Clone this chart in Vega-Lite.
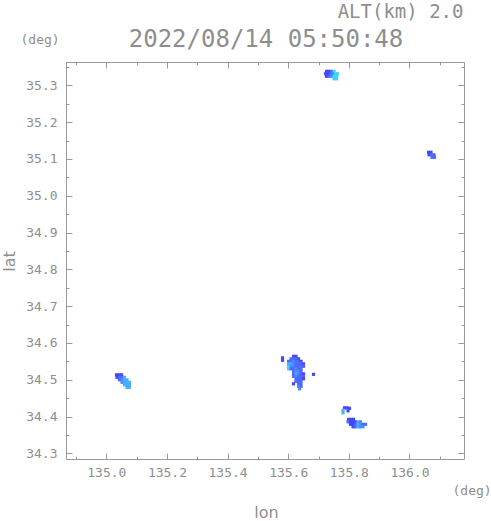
{
  "$schema": "https://vega.github.io/schema/vega-lite/v6.json",
  "width": 398,
  "height": 397,
  "autosize": {"type": "none"},
  "padding": {"left": 66, "top": 62, "right": 27, "bottom": 62},
  "background": "white",
  "config": {
    "view": {"stroke": "#9a9a9a", "strokeWidth": 1},
    "axis": {
      "domain": false,
      "grid": false,
      "tickColor": "#9a9a9a",
      "tickWidth": 1,
      "labelColor": "#8e8e8e",
      "labelFont": "DejaVu Sans Mono",
      "labelFontSize": 13,
      "titleColor": "#8e8e8e",
      "titleFontWeight": "normal",
      "titleFont": "DejaVu Sans Mono"
    }
  },
  "data": {
    "values": [
      {"lon": 135.7265, "lat": 35.3382, "lvl": 1},
      {"lon": 135.7347, "lat": 35.3382, "lvl": 1},
      {"lon": 135.7430, "lat": 35.3382, "lvl": 2},
      {"lon": 135.7513, "lat": 35.3382, "lvl": 5},
      {"lon": 135.7232, "lat": 35.3314, "lvl": 1},
      {"lon": 135.7314, "lat": 35.3314, "lvl": 1},
      {"lon": 135.7397, "lat": 35.3314, "lvl": 2},
      {"lon": 135.7480, "lat": 35.3314, "lvl": 3},
      {"lon": 135.7562, "lat": 35.3314, "lvl": 5},
      {"lon": 135.7628, "lat": 35.3314, "lvl": 5},
      {"lon": 135.7265, "lat": 35.3246, "lvl": 1},
      {"lon": 135.7347, "lat": 35.3246, "lvl": 2},
      {"lon": 135.7430, "lat": 35.3246, "lvl": 3},
      {"lon": 135.7513, "lat": 35.3246, "lvl": 5},
      {"lon": 135.7595, "lat": 35.3246, "lvl": 5},
      {"lon": 135.7513, "lat": 35.3178, "lvl": 5},
      {"lon": 135.7595, "lat": 35.3178, "lvl": 5},

      {"lon": 136.0630, "lat": 35.1181, "lvl": 1},
      {"lon": 136.0712, "lat": 35.1181, "lvl": 1},
      {"lon": 136.0646, "lat": 35.1113, "lvl": 1},
      {"lon": 136.0729, "lat": 35.1113, "lvl": 2},
      {"lon": 136.0811, "lat": 35.1113, "lvl": 2},
      {"lon": 136.0745, "lat": 35.1045, "lvl": 2},
      {"lon": 136.0828, "lat": 35.1045, "lvl": 2},

      {"lon": 135.0336, "lat": 34.5133, "lvl": 1},
      {"lon": 135.0419, "lat": 34.5133, "lvl": 1},
      {"lon": 135.0501, "lat": 34.5133, "lvl": 1},
      {"lon": 135.0353, "lat": 34.5065, "lvl": 1},
      {"lon": 135.0435, "lat": 34.5065, "lvl": 2},
      {"lon": 135.0518, "lat": 34.5065, "lvl": 2},
      {"lon": 135.0600, "lat": 34.5065, "lvl": 4},
      {"lon": 135.0435, "lat": 34.4997, "lvl": 2},
      {"lon": 135.0518, "lat": 34.4997, "lvl": 3},
      {"lon": 135.0600, "lat": 34.4997, "lvl": 4},
      {"lon": 135.0683, "lat": 34.4997, "lvl": 4},
      {"lon": 135.0518, "lat": 34.4929, "lvl": 3},
      {"lon": 135.0600, "lat": 34.4929, "lvl": 4},
      {"lon": 135.0683, "lat": 34.4929, "lvl": 4},
      {"lon": 135.0765, "lat": 34.4929, "lvl": 4},
      {"lon": 135.0600, "lat": 34.4861, "lvl": 4},
      {"lon": 135.0683, "lat": 34.4861, "lvl": 4},
      {"lon": 135.0765, "lat": 34.4861, "lvl": 4},
      {"lon": 135.0683, "lat": 34.4793, "lvl": 4},
      {"lon": 135.0765, "lat": 34.4793, "lvl": 4},

      {"lon": 135.5813, "lat": 34.5595, "lvl": 1},
      {"lon": 135.5813, "lat": 34.5527, "lvl": 1},
      {"lon": 135.6176, "lat": 34.5636, "lvl": 1},
      {"lon": 135.6258, "lat": 34.5636, "lvl": 1},
      {"lon": 135.6093, "lat": 34.5568, "lvl": 2},
      {"lon": 135.6176, "lat": 34.5568, "lvl": 2},
      {"lon": 135.6258, "lat": 34.5568, "lvl": 2},
      {"lon": 135.6341, "lat": 34.5568, "lvl": 1},
      {"lon": 135.6011, "lat": 34.5500, "lvl": 2},
      {"lon": 135.6093, "lat": 34.5500, "lvl": 2},
      {"lon": 135.6176, "lat": 34.5500, "lvl": 3},
      {"lon": 135.6258, "lat": 34.5500, "lvl": 2},
      {"lon": 135.6341, "lat": 34.5500, "lvl": 2},
      {"lon": 135.6423, "lat": 34.5500, "lvl": 1},
      {"lon": 135.6011, "lat": 34.5432, "lvl": 4},
      {"lon": 135.6093, "lat": 34.5432, "lvl": 4},
      {"lon": 135.6176, "lat": 34.5432, "lvl": 3},
      {"lon": 135.6258, "lat": 34.5432, "lvl": 2},
      {"lon": 135.6341, "lat": 34.5432, "lvl": 2},
      {"lon": 135.6423, "lat": 34.5432, "lvl": 2},
      {"lon": 135.6506, "lat": 34.5432, "lvl": 1},
      {"lon": 135.6011, "lat": 34.5364, "lvl": 5},
      {"lon": 135.6093, "lat": 34.5364, "lvl": 3},
      {"lon": 135.6176, "lat": 34.5364, "lvl": 3},
      {"lon": 135.6258, "lat": 34.5364, "lvl": 2},
      {"lon": 135.6341, "lat": 34.5364, "lvl": 2},
      {"lon": 135.6423, "lat": 34.5364, "lvl": 2},
      {"lon": 135.6506, "lat": 34.5364, "lvl": 2},
      {"lon": 135.6011, "lat": 34.5296, "lvl": 5},
      {"lon": 135.6093, "lat": 34.5296, "lvl": 2},
      {"lon": 135.6176, "lat": 34.5296, "lvl": 2},
      {"lon": 135.6258, "lat": 34.5296, "lvl": 3},
      {"lon": 135.6341, "lat": 34.5296, "lvl": 2},
      {"lon": 135.6423, "lat": 34.5296, "lvl": 2},
      {"lon": 135.6176, "lat": 34.5228, "lvl": 2},
      {"lon": 135.6258, "lat": 34.5228, "lvl": 3},
      {"lon": 135.6341, "lat": 34.5228, "lvl": 3},
      {"lon": 135.6423, "lat": 34.5228, "lvl": 2},
      {"lon": 135.6176, "lat": 34.5160, "lvl": 2},
      {"lon": 135.6258, "lat": 34.5160, "lvl": 4},
      {"lon": 135.6341, "lat": 34.5160, "lvl": 3},
      {"lon": 135.6423, "lat": 34.5160, "lvl": 2},
      {"lon": 135.6506, "lat": 34.5160, "lvl": 1},
      {"lon": 135.6176, "lat": 34.5092, "lvl": 2},
      {"lon": 135.6258, "lat": 34.5092, "lvl": 3},
      {"lon": 135.6341, "lat": 34.5092, "lvl": 2},
      {"lon": 135.6423, "lat": 34.5092, "lvl": 2},
      {"lon": 135.6506, "lat": 34.5092, "lvl": 2},
      {"lon": 135.6258, "lat": 34.5024, "lvl": 2},
      {"lon": 135.6341, "lat": 34.5024, "lvl": 2},
      {"lon": 135.6423, "lat": 34.5024, "lvl": 2},
      {"lon": 135.6506, "lat": 34.5024, "lvl": 1},
      {"lon": 135.6258, "lat": 34.4956, "lvl": 2},
      {"lon": 135.6341, "lat": 34.4956, "lvl": 2},
      {"lon": 135.6423, "lat": 34.4956, "lvl": 2},
      {"lon": 135.6176, "lat": 34.4888, "lvl": 1},
      {"lon": 135.6341, "lat": 34.4888, "lvl": 2},
      {"lon": 135.6423, "lat": 34.4888, "lvl": 2},
      {"lon": 135.6341, "lat": 34.4820, "lvl": 3},
      {"lon": 135.6423, "lat": 34.4820, "lvl": 2},
      {"lon": 135.6374, "lat": 34.4752, "lvl": 3},
      {"lon": 135.6836, "lat": 34.5146, "lvl": 1},

      {"lon": 135.7858, "lat": 34.4236, "lvl": 1},
      {"lon": 135.7941, "lat": 34.4236, "lvl": 1},
      {"lon": 135.8023, "lat": 34.4222, "lvl": 1},
      {"lon": 135.7809, "lat": 34.4168, "lvl": 4},
      {"lon": 135.7974, "lat": 34.4154, "lvl": 1},
      {"lon": 135.7809, "lat": 34.4100, "lvl": 4},
      {"lon": 135.7990, "lat": 34.3923, "lvl": 1},
      {"lon": 135.8073, "lat": 34.3923, "lvl": 1},
      {"lon": 135.8155, "lat": 34.3923, "lvl": 1},
      {"lon": 135.7974, "lat": 34.3855, "lvl": 2},
      {"lon": 135.8056, "lat": 34.3855, "lvl": 1},
      {"lon": 135.8139, "lat": 34.3855, "lvl": 1},
      {"lon": 135.8221, "lat": 34.3855, "lvl": 1},
      {"lon": 135.8304, "lat": 34.3855, "lvl": 4},
      {"lon": 135.8386, "lat": 34.3855, "lvl": 3},
      {"lon": 135.8056, "lat": 34.3787, "lvl": 1},
      {"lon": 135.8139, "lat": 34.3787, "lvl": 1},
      {"lon": 135.8221, "lat": 34.3787, "lvl": 2},
      {"lon": 135.8304, "lat": 34.3787, "lvl": 4},
      {"lon": 135.8386, "lat": 34.3787, "lvl": 3},
      {"lon": 135.8469, "lat": 34.3787, "lvl": 2},
      {"lon": 135.8551, "lat": 34.3787, "lvl": 2},
      {"lon": 135.8139, "lat": 34.3720, "lvl": 1},
      {"lon": 135.8221, "lat": 34.3720, "lvl": 2},
      {"lon": 135.8304, "lat": 34.3720, "lvl": 4},
      {"lon": 135.8386, "lat": 34.3720, "lvl": 3},
      {"lon": 135.8469, "lat": 34.3720, "lvl": 3}
    ]
  },
  "resolve": {"axis": {"x": "independent", "y": "independent"}},
  "layer": [
    {
      "mark": {"type": "square", "size": 10, "opacity": 1, "strokeWidth": 0},
      "encoding": {
        "x": {
          "field": "lon", "type": "quantitative",
          "scale": {"domain": [134.867, 136.18], "nice": false, "zero": false},
          "axis": {
            "orient": "bottom",
            "values": [135.0, 135.2, 135.4, 135.6, 135.8, 136.0],
            "format": ".1f",
            "ticks": false,
            "labelPadding": 7,
            "labelBaseline": "top",
            "title": "lon",
            "titleFont": "DejaVu Sans",
            "titleFontSize": 16,
            "titleX": 200,
            "titleY": 58,
            "titleAlign": "center",
            "titleBaseline": "alphabetic"
          }
        },
        "y": {
          "field": "lat", "type": "quantitative",
          "scale": {"domain": [34.2845, 35.3635], "nice": false, "zero": false},
          "axis": {
            "orient": "left",
            "values": [34.3, 34.4, 34.5, 34.6, 34.7, 34.8, 34.9, 35.0, 35.1, 35.2, 35.3],
            "format": ".1f",
            "ticks": false,
            "labelPadding": 9,
            "title": "lat",
            "titleFont": "DejaVu Sans",
            "titleFontSize": 16,
            "titleX": -57,
            "titleY": 199,
            "titleAngle": -90,
            "titleAlign": "center",
            "titleBaseline": "middle"
          }
        },
        "color": {
          "field": "lvl", "type": "ordinal",
          "scale": {"domain": [1, 2, 3, 4, 5], "range": ["#4646ff", "#5068ff", "#4a8cff", "#4aaeff", "#3fd2ff"]},
          "legend": null
        }
      }
    },
    {
      "mark": {"type": "point", "opacity": 0},
      "encoding": {
        "x": {
          "field": "lon", "type": "quantitative",
          "axis": {
            "orient": "top",
            "values": [134.9, 135.0, 135.1, 135.2, 135.3, 135.4, 135.5, 135.6, 135.7, 135.8, 135.9, 136.0, 136.1],
            "labels": false,
            "tickSize": {"condition": {"test": "round(datum.value*10) % 2 === 0", "value": -6}, "value": -3},
            "title": "2022/08/14 05:50:48",
            "titleFontSize": 24,
            "titleX": 199.5,
            "titleY": -15.5,
            "titleAngle": 0,
            "titleAlign": "center",
            "titleBaseline": "alphabetic"
          }
        },
        "y": {
          "field": "lat", "type": "quantitative",
          "axis": {
            "orient": "right",
            "values": [34.3, 34.35, 34.4, 34.45, 34.5, 34.55, 34.6, 34.65, 34.7, 34.75, 34.8, 34.85, 34.9, 34.95, 35.0, 35.05, 35.1, 35.15, 35.2, 35.25, 35.3, 35.35],
            "labels": false,
            "tickSize": {"condition": {"test": "round(datum.value*100) % 10 === 0", "value": -6}, "value": -3},
            "title": "(deg)",
            "titleFontSize": 13,
            "titleX": -12,
            "titleY": 432,
            "titleAngle": 0,
            "titleAlign": "left",
            "titleBaseline": "alphabetic"
          }
        }
      }
    },
    {
      "mark": {"type": "point", "opacity": 0},
      "encoding": {
        "x": {
          "field": "lon", "type": "quantitative",
          "axis": {
            "orient": "bottom",
            "values": [134.9, 135.0, 135.1, 135.2, 135.3, 135.4, 135.5, 135.6, 135.7, 135.8, 135.9, 136.0, 136.1],
            "labels": false,
            "tickSize": {"condition": {"test": "round(datum.value*10) % 2 === 0", "value": -6}, "value": -3},
            "title": "ALT(km) 2.0",
            "titleFontSize": 19,
            "titleX": 397,
            "titleY": -442,
            "titleAngle": 0,
            "titleAlign": "right",
            "titleBaseline": "alphabetic"
          }
        },
        "y": {
          "field": "lat", "type": "quantitative",
          "axis": {
            "orient": "left",
            "values": [34.3, 34.35, 34.4, 34.45, 34.5, 34.55, 34.6, 34.65, 34.7, 34.75, 34.8, 34.85, 34.9, 34.95, 35.0, 35.05, 35.1, 35.15, 35.2, 35.25, 35.3, 35.35],
            "labels": false,
            "tickSize": {"condition": {"test": "round(datum.value*100) % 10 === 0", "value": -6}, "value": -3},
            "title": "(deg)",
            "titleFontSize": 13,
            "titleX": -46,
            "titleY": -18.6,
            "titleAngle": 0,
            "titleAlign": "left",
            "titleBaseline": "alphabetic"
          }
        }
      }
    }
  ]
}
